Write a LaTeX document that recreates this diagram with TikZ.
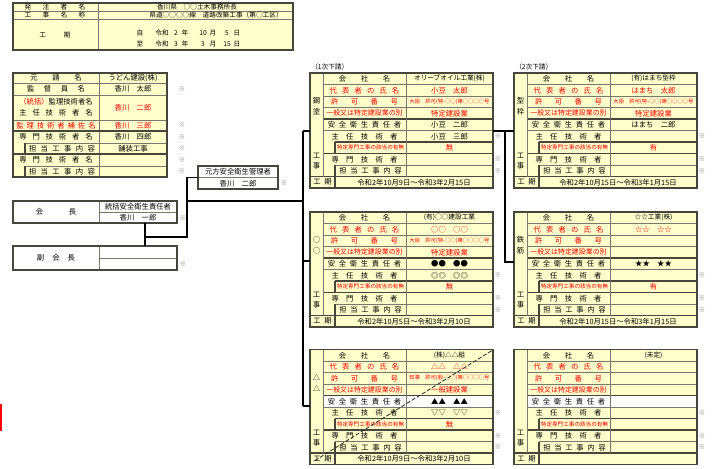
\documentclass[tikz,border=0pt]{standalone}
\usepackage{fontspec}
\setmainfont{Noto Sans CJK JP}
\usetikzlibrary{calc}
\definecolor{cy}{RGB}{255,255,204}
\definecolor{cr}{RGB}{255,0,0}
\definecolor{cl}{RGB}{120,120,110}
\definecolor{cd}{RGB}{70,70,60}
\definecolor{ck}{RGB}{130,130,130}
\newcommand{\kg}[1]{\hspace{#1em}}
\tikzset{
 thinl/.style={draw=cl,line width=0.35pt},
 thickl/.style={draw=cd,line width=0.8pt},
 conn/.style={draw=black,line width=1.1pt},
 txt/.style={inner sep=0pt,font=\fontsize{5.5}{6}\selectfont,text=black},
 htxt/.style={txt,font=\fontsize{5}{6}\selectfont},
 rtxt/.style={txt,text=cr},
 ntxt/.style={rtxt,font=\fontsize{5.2}{6}\selectfont},
 stxt/.style={rtxt,font=\fontsize{4.2}{5}\selectfont},
 lic/.style={rtxt,font=\fontsize{4}{5}\selectfont},
 cmp/.style={txt,font=\fontsize{5}{6}\selectfont},
 kome/.style={inner sep=0pt,font=\fontsize{5}{6}\selectfont,text=ck},
}
% subcontractor block frame: #1 prefix, #2 white safety row (1/0), #3 #4 top vertical label
\newcommand{\sbframe}[4]{%
  \fill[cy] (0,0) rectangle (183,115);
  \ifnum#2=1 \fill[white] (13,46) rectangle (183,57.5);\fi
  \draw[thinl] (13,11.5)--(183,11.5) (13,23)--(183,23) (13,34.5)--(183,34.5)
     (13,57.5)--(183,57.5) (25,92)--(183,92);
  \draw[thickl] (13,46)--(183,46) (25,69)--(183,69) (13,80.5)--(183,80.5) (0,103.5)--(183,103.5);
  \draw[thinl] (13,0)--(13,103.5) (96,0)--(96,103.5);
  \draw[thickl] (25,69)--(25,80.5) (25,92)--(25,115);
  \draw[thickl] (0,0) rectangle (183,115);
  \node[txt] (#1-l0) at (54.5,5.75) {会\kg{2}社\kg{2}名};
  \node[rtxt] (#1-l1) at (54.5,17.25) {代\kg{.7}表\kg{.7}者\kg{.7}の\kg{.7}氏\kg{.7}名};
  \node[rtxt] (#1-l2) at (54.5,28.75) {許\kg{1.7}可\kg{1.7}番\kg{1.7}号};
  \node[ntxt] (#1-l3) at (54.5,40.25) {一般又は特定建設業の別};
  \node[txt] (#1-l4) at (54.5,51.75) {安\kg{.5}全\kg{.5}衛\kg{.5}生\kg{.5}責\kg{.5}任\kg{.5}者};
  \node[txt] (#1-l5) at (54.5,63.25) {主\kg{1}任\kg{1}技\kg{1}術\kg{1}者};
  \node[stxt] (#1-l6) at (60.5,74.75) {特定専門工事の該当の有無};
  \node[txt] (#1-l7) at (54.5,86.25) {専\kg{1}門\kg{1}技\kg{1}術\kg{1}者};
  \node[txt] (#1-l8) at (60.5,97.75) {担\kg{.5}当\kg{.5}工\kg{.5}事\kg{.5}内\kg{.5}容};
  \node[txt] (#1-l9) at (12.5,109.25) {工\kg{.5}期};
  \node[txt] (#1-t1) at (6.5,28) {#3};
  \node[txt] (#1-t2) at (6.5,39) {#4};
  \node[txt] (#1-w1) at (6.5,83) {工};
  \node[txt] (#1-w2) at (6.5,93) {事};
  \node[kome] (#1-k1) at (188,63.25) {※};
  \node[kome] (#1-k2) at (188,86.25) {※};
  \node[kome] (#1-k3) at (188,97.75) {※};
}
\newcommand{\sbv}[4]{\node[#3] (#1-v#2) at (139.5,{#2*11.5+5.75}) {#4};}
\newcommand{\sbp}[2]{\node[txt] (#1-v9) at (104,109.25) {#2};}
\begin{document}
\begin{tikzpicture}[x=0.75pt,y=-0.75pt]
\useasboundingbox (0,0) rectangle (717,468);
\fill[white] (0,0) rectangle (717,468);

% ---------- header table ----------
\fill[cy] (13,3) rectangle (293,50);
\draw[thinl] (13,11)--(293,11) (13,19)--(293,19) (98,3)--(98,50);
\draw[thickl] (13,3) rectangle (293,50);
\node[htxt] (h-l1) at (55,7) {発\kg{1.7}注\kg{1.7}者\kg{1.7}名};
\node[htxt] (h-l2) at (55,15) {工\kg{1.7}事\kg{1.7}名\kg{1.7}称};
\node[htxt] (h-l3) at (55,35) {工\kg{2.7}期};
\node[htxt] (h-v1) at (197,7) {香川県　○○土木事務所長};
\node[htxt] (h-v2) at (216,15) {県道○○○○線　道路改築工事（第○工区）};
\foreach \yy/\a/\b/\c/\d in {33/自/2/10/5, 44/至/3/3/15}{
  \node[htxt] (h-a\yy) at (140,\yy) {\a};
  \node[htxt] (h-r\yy) at (162,\yy) {令和};
  \node[htxt] (h-y\yy) at (176,\yy) {\b};
  \node[htxt] (h-n\yy) at (185,\yy) {年};
  \node[htxt] (h-m\yy) at (203,\yy) {\c};
  \node[htxt] (h-g\yy) at (213,\yy) {月};
  \node[htxt] (h-d\yy) at (227,\yy) {\d};
  \node[htxt] (h-h\yy) at (237,\yy) {日};
}

% ---------- prime contractor table ----------
\fill[cy] (13,73) rectangle (167,177);
\draw[thinl] (13,83)--(167,83) (13,95)--(167,95) (13,120)--(167,120)
   (25,143)--(167,143) (25,166)--(167,166) (99,73)--(99,177);
\draw[thickl] (13,131)--(167,131) (13,154)--(167,154) (25,143)--(25,154) (25,166)--(25,177);
\draw[thickl] (13,73) rectangle (167,177);
\node[txt] (p-l1) at (56,78) {元\kg{2}請\kg{2}名};
\node[txt] (p-v1) at (133,78) {うどん建設(株)};
\node[txt] (p-l2) at (56,89) {監\kg{1.3}督\kg{1.3}員\kg{1.3}名};
\node[txt] (p-v2) at (133,89) {香川　太郎};
\node[txt] (p-l3) at (56,102) {\textcolor{cr}{（統括）}監理技術者名};
\node[txt] (p-l3b) at (56,113) {主\kg{.8}任\kg{.8}技\kg{.8}術\kg{.8}者\kg{.8}名};
\node[rtxt] (p-v3) at (133,107.5) {香川　二郎};
\node[rtxt] (p-l4) at (56,125.5) {監\kg{.4}理\kg{.4}技\kg{.4}術\kg{.4}者\kg{.4}補\kg{.4}佐\kg{.4}名};
\node[rtxt] (p-v4) at (133,125.5) {香川　三郎};
\node[txt] (p-l5) at (56,137) {専\kg{.8}門\kg{.8}技\kg{.8}術\kg{.8}者\kg{.8}名};
\node[txt] (p-v5) at (133,137) {香川　四郎};
\node[txt] (p-l6) at (62,148.5) {担\kg{.6}当\kg{.6}工\kg{.6}事\kg{.6}内\kg{.6}容};
\node[txt] (p-v6) at (133,148.5) {舗装工事};
\node[txt] (p-l7) at (56,160) {専\kg{.8}門\kg{.8}技\kg{.8}術\kg{.8}者\kg{.8}名};
\node[txt] (p-l8) at (62,171.5) {担\kg{.6}当\kg{.6}工\kg{.6}事\kg{.6}内\kg{.6}容};
\foreach \yy [count=\i] in {89,125.5,137,148.5,160,171.5}
  \node[kome] (p-k\i) at (182,\yy) {※};

% ---------- safety boxes ----------
\draw[thinl] (198,177.5)--(278,177.5);
\draw[thickl] (198,166) rectangle (278,189);
\node[txt] (m-l) at (238,171.75) {元方安全衛生管理者};
\node[txt] (m-v) at (238,183.25) {香川　二郎};
\node[kome] (m-k) at (284,183.5) {※};

\draw[thinl] (99,201)--(99,223) (99,212)--(177,212);
\draw[thickl] (13,201) rectangle (177,223);
\node[txt] (k-l) at (56,212) {会\kg{3.5}長};
\node[txt] (k-v1) at (138,206.5) {統括安全衛生責任者};
\node[txt] (k-v2) at (138,217.5) {香川　一郎};
\node[kome] (k-k) at (183,218) {※};

\draw[thinl] (99,246)--(99,270) (99,258)--(177,258);
\draw[thickl] (13,246) rectangle (177,270);
\node[txt] (f-l) at (56,258) {副\kg{1.1}会\kg{1.1}長};
\node[kome] (f-k) at (183,264) {※};

% ---------- subcontractor blocks ----------
\node[cmp,anchor=west] (s1) at (311,67) {（1次下請）};
\node[cmp,anchor=west] (s2) at (515,67) {（2次下請）};

\begin{scope}[shift={(310,73)}]
  \sbframe{b1}{0}{鋼}{塗}
  \sbv{b1}{0}{cmp}{オリーブオイル工業(株)}
  \sbv{b1}{1}{rtxt}{小豆　太郎}
  \sbv{b1}{2}{lic}{大臣　許可(特-○○)第○○○○号}
  \sbv{b1}{3}{rtxt}{特定建設業}
  \sbv{b1}{4}{txt}{小豆　二郎}
  \sbv{b1}{5}{txt}{小豆　三郎}
  \sbv{b1}{6}{rtxt}{無}
  \sbp{b1}{令和2年10月9日～令和3年2月15日}
  \coordinate (b1-L) at (0,58); \coordinate (b1-R) at (183,58);
\end{scope}

\begin{scope}[shift={(514,73)}]
  \sbframe{b2}{0}{型}{枠}
  \sbv{b2}{0}{cmp}{(有)はまち型枠}
  \sbv{b2}{1}{rtxt}{はまち　太郎}
  \sbv{b2}{2}{lic}{大臣　許可(特-○○)第○○○○号}
  \sbv{b2}{3}{rtxt}{特定建設業}
  \sbv{b2}{4}{txt}{はまち　二郎}
  \sbv{b2}{6}{rtxt}{有}
  \sbp{b2}{令和2年10月15日～令和3年1月15日}
  \coordinate (b2-L) at (0,58);
\end{scope}

\begin{scope}[shift={(310,212)}]
  \sbframe{b3}{0}{○}{○}
  \sbv{b3}{0}{cmp}{(有)○○建設工業}
  \sbv{b3}{1}{rtxt}{○○　○○}
  \sbv{b3}{2}{lic}{大臣　許可(特-○○)第○○○○号}
  \sbv{b3}{3}{rtxt}{特定建設業}
  \sbv{b3}{4}{txt}{●●　●●}
  \sbv{b3}{5}{txt}{◎◎　◎◎}
  \sbv{b3}{6}{rtxt}{無}
  \sbp{b3}{令和2年10月5日～令和3年2月10日}
  \coordinate (b3-L) at (0,49);
\end{scope}

\begin{scope}[shift={(514,212)}]
  \sbframe{b4}{0}{鉄}{筋}
  \sbv{b4}{0}{cmp}{☆☆工業(株)}
  \sbv{b4}{1}{rtxt}{☆☆　☆☆}
  \sbv{b4}{4}{txt}{★★　★★}
  \sbv{b4}{6}{rtxt}{有}
  \sbp{b4}{令和2年10月15日～令和3年1月15日}
  \coordinate (b4-L) at (0,50);
\end{scope}

\begin{scope}[shift={(310,349.5)}]
  \sbframe{b5}{1}{△}{△}
  \sbv{b5}{0}{cmp}{(株)△△組}
  \sbv{b5}{1}{rtxt}{△△　△△}
  \sbv{b5}{2}{lic}{知事　許可(般-○○)第○○○○号}
  \sbv{b5}{3}{rtxt}{一般建設業}
  \sbv{b5}{4}{txt}{▲▲　▲▲}
  \sbv{b5}{5}{txt}{▽▽　▽▽}
  \sbv{b5}{6}{rtxt}{無}
  \sbp{b5}{令和2年10月9日～令和3年2月10日}
  \coordinate (b5-L) at (0,56.5);
  \coordinate (b5-d1) at (5,111); \coordinate (b5-d2) at (182,1);
  \draw[black!85,line width=0.6pt,dash pattern=on 3pt off 1.5pt] (b5-d1) -- (b5-d2);
\end{scope}

\begin{scope}[shift={(514,349.5)}]
  \sbframe{b6}{1}{}{}
  \sbv{b6}{0}{cmp}{(未定)}
\end{scope}

% ---------- connectors ----------
\coordinate (k-b) at (145,223);
\coordinate (f-t) at (145,246);
\coordinate (j1) at (145,237);
\coordinate (j2) at (187,237);
\coordinate (j3) at (187,177.5);
\coordinate (m-w) at (198,177.5);
\coordinate (j4) at (187,201);
\coordinate (bus-t) at (303,131);
\coordinate (bus-m) at (303,261);
\coordinate (bus-b) at (303,406);
\coordinate (j5) at (303,201);
\coordinate (rb-t) at (505,131);
\coordinate (rb-b) at (505,262);
\draw[conn] (k-b) -- (f-t);
\draw[conn] (j1) -- (j2) -- (j3) -- (m-w);
\draw[conn] (j4) -- (j5);
\draw[conn] (bus-t) -- (bus-b);
\draw[conn] (bus-t) -- (b1-L);
\draw[conn] (bus-m) -- (b3-L);
\draw[conn] (bus-b) -- (b5-L);
\draw[conn] (b1-R) -- (b2-L);
\draw[conn] (rb-t) -- (rb-b) -- (b4-L);

% red marker
\fill[cr] (0,404) rectangle (1.5,431);
\end{tikzpicture}
\end{document}
